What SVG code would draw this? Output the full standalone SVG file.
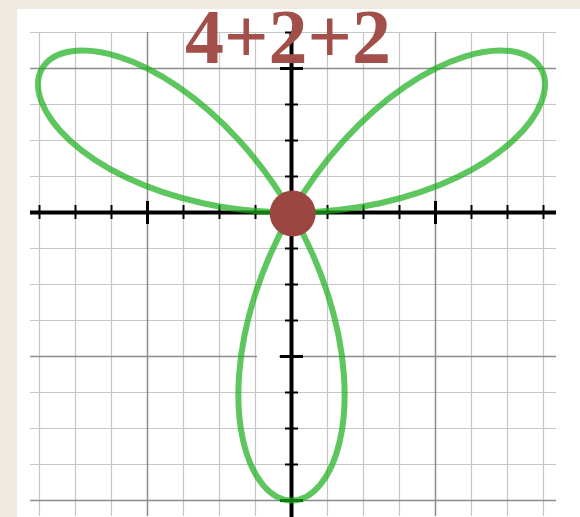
<svg xmlns="http://www.w3.org/2000/svg" xmlns:xlink="http://www.w3.org/1999/xlink" width="580" height="517" viewBox="0 0 580 517">
<style>
.minor{stroke:#c6c6c6;stroke-width:1.2;fill:none}
.major{stroke:#8c8c8c;stroke-width:1.5;fill:none}
.axis{stroke:#000;stroke-width:4;fill:none}
.tick{stroke:#000;stroke-width:2;fill:none}
.rose{stroke:#1aae1a;stroke-opacity:0.7;stroke-width:6;fill:none;stroke-linejoin:round}
.title{font-family:"Liberation Serif","Times New Roman",serif;font-weight:bold;font-size:78px;fill:#a24f4a}
</style>
<defs>
<path id="petal" d="M0,0 C26.12,-15.08 53.83,-27.37 81.30,-36.20 C108.77,-45.03 135.97,-50.39 161.00,-52.31 C186.03,-54.23 208.88,-52.71 227.91,-48.44 C246.94,-44.17 262.13,-37.16 272.40,-28.63 C282.67,-20.10 288,-10.05 288,0 C288,10.05 282.67,20.10 272.40,28.63 C262.13,37.16 246.94,44.17 227.91,48.44 C208.88,52.71 186.03,54.23 161.00,52.31 C135.97,50.39 108.77,45.03 81.30,36.20 C53.83,27.37 26.12,15.08 0,0 Z"/>
</defs>
<rect x="0" y="0" width="580" height="517" fill="#eeeae2"/>
<rect x="17" y="9" width="563" height="508" fill="#ffffff"/>
<g id="grid">
<path class="minor" d="M39.5,32V516M75.5,32V516M111.5,32V516M183.5,32V516M219.5,32V516M255.5,32V516M327.5,32V516M363.5,32V516M399.5,32V516M471.5,32V516M507.5,32V516M543.5,32V516"/>
<path class="minor" d="M30,32.5H556M30,104.5H556M30,140.5H556M30,176.5H556M30,248.5H556M30,284.5H556M30,320.5H556M30,392.5H556M30,428.5H556M30,464.5H556"/>
<path class="major" d="M147.5,32V516M435.5,32V516M30,68.5H556M30,356.5H556M30,500.5H556"/>
<rect x="257" y="353" width="22" height="6" fill="#ffffff"/>
</g>
<g id="axes">
<path class="axis" d="M30,212.5H556M291.5,32V517"/>
<path class="tick" d="M39.5,205V219M75.5,205V219M111.5,205V219M183.5,205V219M219.5,205V219M255.5,205V219M327.5,205V219M363.5,205V219M399.5,205V219M471.5,205V219M507.5,205V219M543.5,205V219"/>
<path class="tick" d="M147.5,201V224M435.5,201V224" style="stroke-width:3"/>
<path class="tick" d="M285,32.5H298M285,104.5H298M285,140.5H298M285,176.5H298M285,248.5H298M285,284.5H298M285,320.5H298M285,392.5H298M285,428.5H298M285,464.5H298"/>
<path class="tick" d="M280,68.5H303M280,356.5H303M280,500.5H303" style="stroke-width:3"/>
</g>
<g id="rose">
<use xlink:href="#petal" href="#petal" class="rose" transform="translate(291.5,212.5) rotate(-30)"/>
<use xlink:href="#petal" href="#petal" class="rose" transform="translate(291.5,212.5) rotate(-150)"/>
<use xlink:href="#petal" href="#petal" class="rose" transform="translate(291.5,212.5) rotate(90)"/>
</g>
<g id="origin">
<circle cx="292.7" cy="213.5" r="23" fill="#9b4641"/>
</g>
<g id="title">
<text class="title" x="185" y="62.5">4+2+2</text>
</g>
</svg>
